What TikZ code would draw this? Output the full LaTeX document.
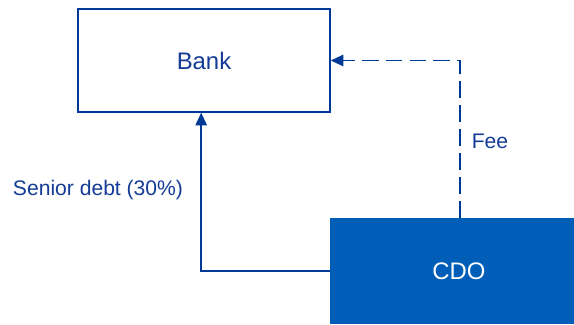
\documentclass[tikz,border=0pt]{standalone}
\usepackage{fontspec}
\setmainfont{Liberation Sans}
\usetikzlibrary{%
	arrows.meta,%
	positioning,%
}
\definecolor{cline}{RGB}{0, 56, 150}
\definecolor{ctext}{RGB}{20, 60, 150}
\definecolor{cfill}{RGB}{0, 94, 184}
\tikzset{
	>={Triangle[length=9pt, width=8pt]},%
	nodes={align=center},%
	bankbox/.style={%
			draw=cline,%
			rectangle,%
			line width=0.9pt,%
			minimum width=6.3cm,%
			minimum height=2.575cm,%
			text=ctext,%
			font=\fontsize{17}{20}\selectfont,%
			fill=white},%
	cdobox/.style={%
			rectangle,%
			minimum width=6.1cm,%
			minimum height=2.65cm,%
			text=white,%
			font=\fontsize{17}{20}\selectfont,%
			fill=cfill},%
	flowlabel/.style={%
			text=ctext,%
			font=\fontsize{15}{18}\selectfont},%
	flow/.style={%
			->,%
			draw=cline,%
			line width=1.4pt},%
}

\begin{document}
\begin{tikzpicture}[x=0.025cm, y=-0.025cm]%
	\useasboundingbox (0,0) rectangle (574,324);

	\node[bankbox] (bank) at (204,60.5) {Bank};
	\node[cdobox] (cdo) at (452,271) {\hspace*{10pt}CDO};

	\node[flowlabel] (senior) at (98,190) {Senior debt (30\%)};
	\node[flowlabel] (fee) at (490,141) {Fee};

	\draw[flow] (cdo.west) -| ([xshift=-2]bank.south);
	\draw[flow, dash pattern=on 12pt off 5pt] ([xshift=6]cdo.north) |- (bank.east);
\end{tikzpicture}
\end{document}
